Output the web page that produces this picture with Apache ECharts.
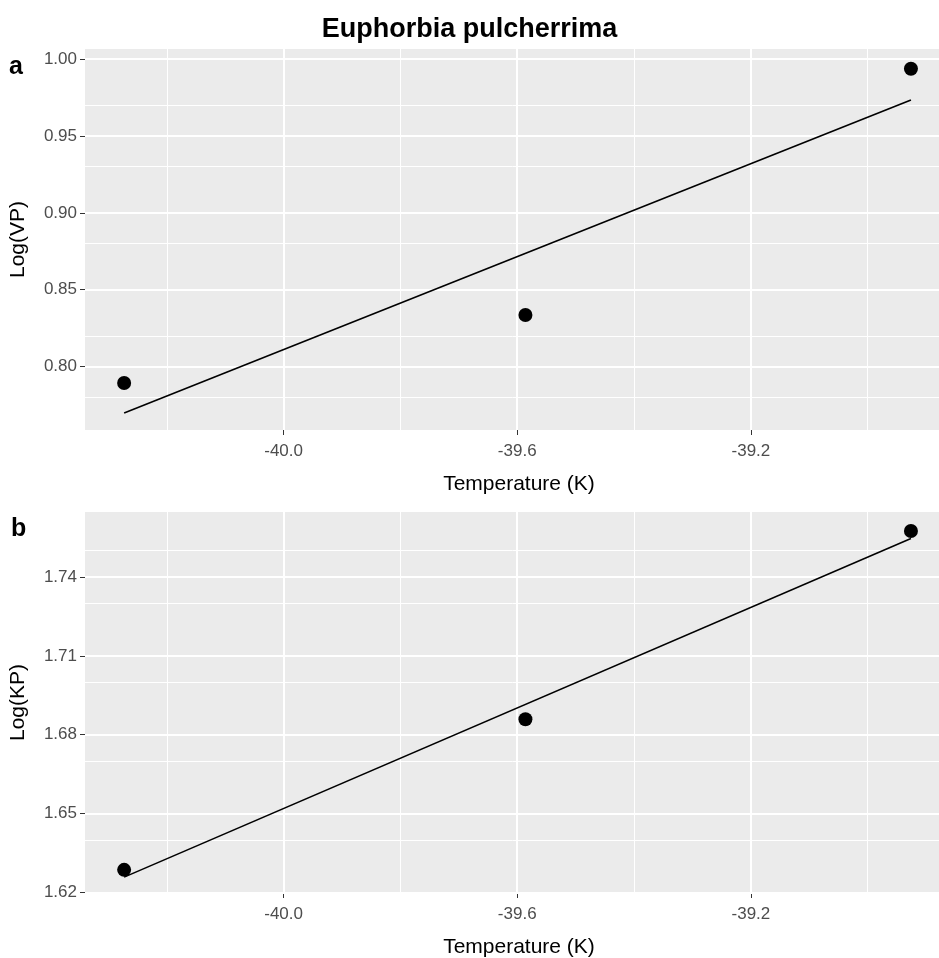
<!DOCTYPE html>
<html>
<head>
<meta charset="utf-8">
<script src="https://cdn.jsdelivr.net/npm/echarts@6/dist/echarts.min.js"></script>
<style>
html,body{margin:0;padding:0;background:#fff;}
#chart{width:939px;height:958px;}
</style>
</head>
<body>
<div id="chart"></div>
<script>
// ---- data ----
const titleText = 'Euphorbia pulcherrima';
const temperature = [-40.273, -39.586, -38.926];   // x values (Temperature (K))
const logVP = [0.7894, 0.8336, 0.9937];            // panel a
const logKP = [1.6286, 1.6859, 1.7575];            // panel b

const xTicks = [-40.0, -39.6, -39.2];
const xMinor = [-40.2, -39.8, -39.4, -39.0];
const yTicksA = [0.80, 0.85, 0.90, 0.95, 1.00];
const yMinorA = [0.775, 0.825, 0.875, 0.925, 0.975];
const yTicksB = [1.62, 1.65, 1.68, 1.71, 1.74];
const yMinorB = [1.635, 1.665, 1.695, 1.725, 1.755];

const xRange = [-40.340, -38.854];
const yRangeA = [0.7588, 1.0065];
const yRangeB = [1.6198, 1.7647];

// least squares fit (as geom_smooth(method = "lm"))
function fitLine(xs, ys) {
  const n = xs.length;
  const mx = xs.reduce((a, b) => a + b, 0) / n;
  const my = ys.reduce((a, b) => a + b, 0) / n;
  let sxy = 0, sxx = 0;
  for (let i = 0; i < n; i++) { sxy += (xs[i] - mx) * (ys[i] - my); sxx += (xs[i] - mx) ** 2; }
  const b = sxy / sxx, a = my - b * mx;
  const x0 = Math.min(...xs), x1 = Math.max(...xs);
  return [[x0, a + b * x0], [x1, a + b * x1]];
}

const FONT = '"Liberation Sans", Arial, sans-serif';
const chart = echarts.init(document.getElementById('chart'), null, {renderer: 'canvas'});

function gridLines(xMaj, xMin, yMaj, yMin, idx) {
  const maj = {color: '#FFFFFF', width: 2, type: 'solid'};
  const mnr = {color: '#FFFFFF', width: 1, type: 'solid'};
  const data = [];
  xMin.forEach(v => data.push({xAxis: v, lineStyle: mnr}));
  yMin.forEach(v => data.push({yAxis: v, lineStyle: mnr}));
  xMaj.forEach(v => data.push({xAxis: v, lineStyle: maj}));
  yMaj.forEach(v => data.push({yAxis: v, lineStyle: maj}));
  return {
    type: 'scatter', xAxisIndex: idx, yAxisIndex: idx, data: [], silent: true, z: 1,
    markLine: {silent: true, symbol: ['none', 'none'], label: {show: false}, animation: false, z: 1,
      emphasis: {disabled: true}, data: data}
  };
}

function xAxisCfg(idx) {
  return {
    type: 'value', gridIndex: idx, min: xRange[0], max: xRange[1],
    axisLine: {show: false}, splitLine: {show: false},
    axisTick: {show: true, customValues: xTicks, length: 5, lineStyle: {color: '#333333', width: 1}},
    axisLabel: {customValues: xTicks, formatter: v => v.toFixed(1), color: '#4D4D4D', fontSize: 17, fontFamily: FONT, margin: 13},
    name: 'Temperature (K)', nameLocation: 'middle', nameGap: 44,
    nameTextStyle: {color: '#000', fontSize: 21, fontFamily: FONT}
  };
}
function yAxisCfg(idx, rng, ticks, name) {
  return {
    type: 'value', gridIndex: idx, min: rng[0], max: rng[1],
    axisLine: {show: false}, splitLine: {show: false},
    axisTick: {show: true, customValues: ticks, length: 5, lineStyle: {color: '#333333', width: 1}},
    axisLabel: {customValues: ticks, formatter: v => v.toFixed(2), color: '#4D4D4D', fontSize: 17, fontFamily: FONT, margin: 8},
    name: name, nameLocation: 'middle', nameGap: 56,
    nameTextStyle: {color: '#000', fontSize: 21, fontFamily: FONT}
  };
}

const option = {
  animation: false,
  backgroundColor: '#FFFFFF',
  title: [
    {text: titleText, left: 'center', top: 11, textStyle: {fontSize: 27, fontWeight: 'bold', color: '#000', fontFamily: FONT}},
    {text: 'a', left: 4, top: 50, textStyle: {fontSize: 25, fontWeight: 'bold', color: '#000', fontFamily: FONT}},
    {text: 'b', left: 6, top: 512, textStyle: {fontSize: 25, fontWeight: 'bold', color: '#000', fontFamily: FONT}}
  ],
  grid: [
    {left: 85, top: 49, width: 868, height: 381, show: true, backgroundColor: '#EBEBEB', borderWidth: 0,
      containLabel: false, outerBoundsMode: 'none'},
    {left: 85, top: 512, width: 868, height: 381, show: true, backgroundColor: '#EBEBEB', borderWidth: 0,
      containLabel: false, outerBoundsMode: 'none'}
  ],
  xAxis: [xAxisCfg(0), xAxisCfg(1)],
  yAxis: [yAxisCfg(0, yRangeA, yTicksA, 'Log(VP)'), yAxisCfg(1, yRangeB, yTicksB, 'Log(KP)')],
  series: [
    gridLines(xTicks, xMinor, yTicksA, yMinorA, 0),
    gridLines(xTicks, xMinor, yTicksB, yMinorB, 1),
    {type: 'line', xAxisIndex: 0, yAxisIndex: 0, data: fitLine(temperature, logVP), symbol: 'none', z: 3,
      lineStyle: {color: '#000', width: 1.6}, silent: true},
    {type: 'line', xAxisIndex: 1, yAxisIndex: 1, data: fitLine(temperature, logKP), symbol: 'none', z: 3,
      lineStyle: {color: '#000', width: 1.6}, silent: true},
    {type: 'scatter', xAxisIndex: 0, yAxisIndex: 0, data: temperature.map((x, i) => [x, logVP[i]]),
      symbolSize: 14, itemStyle: {color: '#000', opacity: 1}, z: 4},
    {type: 'scatter', xAxisIndex: 1, yAxisIndex: 1, data: temperature.map((x, i) => [x, logKP[i]]),
      symbolSize: 14, itemStyle: {color: '#000', opacity: 1}, z: 4}
  ]
};
chart.setOption(option);
</script>
</body>
</html>
